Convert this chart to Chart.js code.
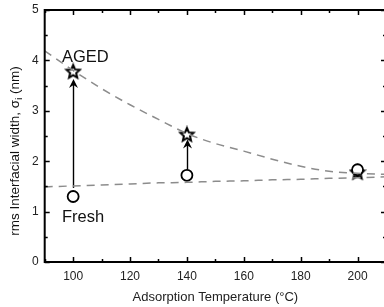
<!DOCTYPE html>
<html>
<head>
<meta charset="utf-8">
<script src="https://cdn.jsdelivr.net/npm/chart.js@4.4.0/dist/chart.umd.min.js"></script>
<style>
  html, body { margin: 0; padding: 0; background: #fff; overflow: hidden; }
  canvas { display: block; }
</style>
</head>
<body>
<canvas id="grafico" width="388" height="307"></canvas>
<script>
// Datos
const temperaturas = [100, 140, 200];
const fresco = [1.30, 1.72, 1.83];
const envejecido = [3.78, 2.53, 1.78];

// Flechas (desde -> hasta)
const flechaDesde = [1.47, 1.83];
const flechaHasta = [3.63, 2.43];

// Curvas de tendencia (discontinuas)
const tempAjuste = [90, 100, 110, 120, 130, 140, 150, 160, 170, 180, 190, 200, 210];
const ajusteEnvejecido = [4.19, 3.80, 3.44, 3.12, 2.83, 2.55, 2.35, 2.20, 2.04, 1.90, 1.80, 1.76, 1.74];
const ajusteFresco = [1.49, 1.51, 1.53, 1.55, 1.57, 1.58, 1.60, 1.61, 1.63, 1.64, 1.66, 1.67, 1.69];

const etiquetasX = [100, 120, 140, 160, 180, 200];
const etiquetasY = [0, 1, 2, 3, 4, 5];

const fuente = "'Liberation Sans', Arial, sans-serif";

// Estrella de 5 puntas como pointStyle
function crearEstrella() {
    const c = document.createElement('canvas');
    c.width = 18; c.height = 18;
    const g = c.getContext('2d');
    g.beginPath();
    for (let i = 0; i < 10; i++) {
        const r = i % 2 === 0 ? 7 : 3.2;
        const a = -Math.PI / 2 + i * Math.PI / 5;
        const px = 9 + r * Math.cos(a), py = 9.5 + r * Math.sin(a);
        if (i === 0) g.moveTo(px, py); else g.lineTo(px, py);
    }
    g.closePath();
    g.fillStyle = '#fff';
    g.fill();
    g.lineWidth = 2;
    g.lineJoin = 'miter';
    g.strokeStyle = '#000';
    g.stroke();
    return c;
}

const pares = (xs, ys) => xs.map((x, i) => ({ x: x, y: ys[i] }));

// Marco, ticks hacia dentro, flechas y textos
const decoracion = {
    id: 'decoracion',
    beforeDatasetsDraw(chart) {
        const ctx = chart.ctx;
        const xs = chart.scales.x, ys = chart.scales.y;
        ctx.save();
        ctx.strokeStyle = '#000';
        ctx.fillStyle = '#000';
        ctx.lineWidth = 1.4;
        flechaDesde.forEach((v, i) => {
            const px = Math.round(xs.getPixelForValue(temperaturas[i])) + 0.5;
            const y1 = ys.getPixelForValue(v);
            const y2 = ys.getPixelForValue(flechaHasta[i]);
            ctx.beginPath();
            ctx.moveTo(px, y1);
            ctx.lineTo(px, y2 + 5);
            ctx.stroke();
            ctx.beginPath();
            ctx.moveTo(px, y2);
            ctx.lineTo(px + 4.5, y2 + 9);
            ctx.lineTo(px, y2 + 6);
            ctx.lineTo(px - 4.5, y2 + 9);
            ctx.closePath();
            ctx.fill();
        });
        ctx.restore();
    },
    afterDraw(chart) {
        const ctx = chart.ctx;
        const a = chart.chartArea;
        const xs = chart.scales.x, ys = chart.scales.y;
        ctx.save();
        ctx.strokeStyle = '#000';
        ctx.lineWidth = 2;
        ctx.strokeRect(a.left, a.top, a.right - a.left, a.bottom - a.top);

        ctx.lineWidth = 1.5;
        ctx.beginPath();
        for (let t = 90; t <= 210; t += 10) {
            const px = Math.round(xs.getPixelForValue(t)) + 0.5;
            const len = t % 20 === 0 ? 5 : 3;
            ctx.moveTo(px, a.bottom); ctx.lineTo(px, a.bottom - len);
            ctx.moveTo(px, a.top); ctx.lineTo(px, a.top + len);
        }
        for (let v = 0; v <= 5; v += 0.5) {
            const py = Math.round(ys.getPixelForValue(v)) + 0.5;
            const len = v % 1 === 0 ? 5 : 3;
            ctx.moveTo(a.left, py); ctx.lineTo(a.left + len, py);
            ctx.moveTo(a.right, py); ctx.lineTo(a.right - len, py);
        }
        ctx.stroke();

        ctx.fillStyle = '#111';
        ctx.font = '16.5px ' + fuente;
        ctx.textBaseline = 'alphabetic';
        ctx.fillText('AGED', 62, 62);
        ctx.fillText('Fresh', 62, 222);

        // Titulo del eje Y con subindice
        ctx.translate(19, 151);
        ctx.rotate(-Math.PI / 2);
        const p1 = 'rms Interfacial width, \u03c3';
        const p2 = ' (nm)';
        ctx.font = '9px ' + fuente;
        const wi = ctx.measureText('i').width;
        ctx.font = '13.5px ' + fuente;
        const w1 = ctx.measureText(p1).width, w2 = ctx.measureText(p2).width;
        let x0 = -(w1 + wi + w2) / 2;
        ctx.fillText(p1, x0, 0);
        ctx.font = '9px ' + fuente;
        ctx.fillText('i', x0 + w1, 3);
        ctx.font = '13.5px ' + fuente;
        ctx.fillText(p2, x0 + w1 + wi, 0);
        ctx.restore();
    }
};

const estrella = crearEstrella();

new Chart(document.getElementById('grafico').getContext('2d'), {
    type: 'line',
    data: {
        datasets: [
            {
                data: pares(tempAjuste, ajusteEnvejecido),
                borderColor: '#8c8c8c',
                borderWidth: 1.5,
                borderDash: [8, 6],
                pointRadius: 0,
                cubicInterpolationMode: 'monotone',
                fill: false
            },
            {
                data: pares(tempAjuste, ajusteFresco),
                borderColor: '#8c8c8c',
                borderWidth: 1.5,
                borderDash: [8, 6],
                pointRadius: 0,
                cubicInterpolationMode: 'monotone',
                fill: false
            },
            {
                data: pares(temperaturas, fresco),
                showLine: false,
                pointStyle: 'circle',
                pointRadius: 5.5,
                pointBorderWidth: 1.8,
                pointBorderColor: '#000',
                pointBackgroundColor: '#fff'
            },
            {
                data: pares(temperaturas, envejecido),
                showLine: false,
                pointStyle: estrella,
                pointRadius: 7
            }
        ]
    },
    options: {
        responsive: false,
        animation: false,
        layout: { autoPadding: false, padding: { top: 10, right: 2, left: 0, bottom: 0 } },
        plugins: {
            legend: { display: false },
            tooltip: { enabled: false }
        },
        scales: {
            x: {
                type: 'linear',
                min: 90,
                max: 210,
                grid: { display: false, drawTicks: false },
                border: { display: false },
                afterBuildTicks: (s) => { s.ticks = etiquetasX.map(v => ({ value: v })); },
                afterFit: (s) => { s.height = 45; s.paddingLeft = 0; s.paddingRight = 0; },
                ticks: {
                    padding: 7,
                    color: '#222',
                    font: { family: fuente, size: 12 }
                },
                title: {
                    display: true,
                    text: 'Adsorption Temperature (\u00b0C)',
                    color: '#222',
                    font: { family: fuente, size: 13 },
                    padding: { top: 0, bottom: 2 }
                }
            },
            y: {
                min: 0,
                max: 5,
                grid: { display: false, drawTicks: false },
                border: { display: false },
                afterBuildTicks: (s) => { s.ticks = etiquetasY.map(v => ({ value: v })); },
                afterFit: (s) => { s.width = 44.7; s.paddingTop = 0; s.paddingBottom = 0; },
                ticks: {
                    padding: 6,
                    color: '#222',
                    font: { family: fuente, size: 12 }
                }
            }
        }
    },
    plugins: [decoracion]
});
</script>
</body>
</html>
